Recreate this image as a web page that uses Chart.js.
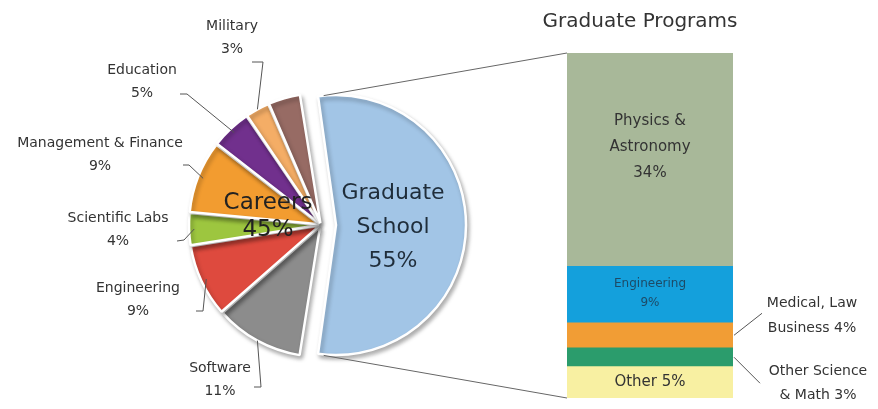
<!DOCTYPE html>
<html>
<head>
<meta charset="utf-8">
<title>Careers and Graduate Programs</title>
<script src="https://cdn.jsdelivr.net/npm/chart.js@4.4.0/dist/chart.umd.min.js"></script>
<style>
html, body { margin: 0; padding: 0; background: #fff; }
#wrap { position: relative; width: 878px; height: 409px; overflow: hidden; }
#pieChart { position: absolute; left: 0; top: 0; }
#barChart { position: absolute; left: 540px; top: 0; }
</style>
</head>
<body>
<div id="wrap">
  <canvas id="pieChart" width="878" height="409"></canvas>
  <canvas id="barChart" width="338" height="409"></canvas>
</div>
<script>
// pie: where people go after the degree
var pieLabels = ['Graduate School', 'Software', 'Engineering', 'Scientific Labs', 'Management & Finance', 'Education', 'Military', 'Other'];
var pieValues = [55, 11, 9, 4, 9, 5, 3, 4];
var pieColors = ['#a2c5e6', '#8c8c8c', '#de4a3e', '#9dc63f', '#f29c30', '#71308d', '#f4ad66', '#976b64'];

// bar: breakdown of the graduate school slice (bottom to top)
var gradLabels = ['Other', 'Other Science & Math', 'Medical, Law Business', 'Engineering', 'Physics & Astronomy'];
var gradValues = [5, 3, 4, 9, 34];
var gradColors = ['#f8f0a2', '#2b9c6c', '#f19d35', '#14a0dc', '#a8b899'];

var FONT = "'Comic Sans MS', 'DejaVu Sans', sans-serif";
var TEXT = '#333333';

// where the outside pie labels sit, and the elbow of their leader line
var calloutLayout = [
  null,
  { tx: 220, ty: 380, path: [[254, 387], [261, 387]], rf: 1.0 },
  { tx: 138, ty: 300, path: [[196, 311], [203, 311]], rf: 0.96 },
  { tx: 118, ty: 230, path: [[177, 241], [184, 240]], rf: 0.96 },
  { tx: 100, ty: 155, path: [[183, 165], [189, 165]], rf: 0.96 },
  { tx: 142, ty: 82, path: [[180, 94], [187, 94]], rf: 0.96 },
  { tx: 232, ty: 38, path: [[252, 62], [263, 62]], rf: 1.0 },
  null
];

function drawLines(ctx, lines, x, y, lh) {
  var y0 = y - (lines.length - 1) * lh / 2;
  for (var i = 0; i < lines.length; i++) {
    ctx.fillText(lines[i], x, y0 + i * lh);
  }
}

// ArcElement.draw moves a slice by offset/4 and grows it by offset/4*fix
function arcFix(el) {
  var circ = el.endAngle - el.startAngle;
  return 1 - Math.sin(Math.min(Math.PI, circ));
}
function arcShift(el) {
  var d = (el.options.offset || 0) / 4;
  var mid = (el.startAngle + el.endAngle) / 2;
  return { dx: Math.cos(mid) * d, dy: Math.sin(mid) * d };
}
function arcPoint(el, angle, rf) {
  var s = arcShift(el);
  var r = (el.outerRadius + (el.options.offset || 0) / 4 * arcFix(el)) * rf;
  return { x: el.x + s.dx + Math.cos(angle) * r, y: el.y + s.dy + Math.sin(angle) * r };
}

var barLeft = 540, barTop = 0;

var barDecor = {
  id: 'barDecor',
  beforeDatasetsDraw: function (chart) {
    var ctx = chart.ctx;
    ctx.save();
    ctx.shadowColor = 'rgba(0,0,0,0.45)';
    ctx.shadowOffsetX = 3;
    ctx.shadowOffsetY = 3;
    ctx.shadowBlur = 2;
  },
  afterDatasetsDraw: function (chart) {
    var ctx = chart.ctx;
    ctx.restore();
    ctx.save();
    ctx.textAlign = 'center';
    ctx.textBaseline = 'middle';
    var seg = function (i) {
      var el = chart.getDatasetMeta(i).data[0];
      return { x: el.x, left: el.x - el.width / 2, right: el.x + el.width / 2, cy: (el.y + el.base) / 2, top: el.y };
    };
    var top = seg(4);
    ctx.fillStyle = TEXT;
    ctx.font = '20px ' + FONT;
    ctx.fillText('Graduate Programs', top.x - 10, 22);

    ctx.font = '15px ' + FONT;
    drawLines(ctx, ['Physics &', 'Astronomy', gradValues[4] + '%'], top.x, top.cy - 13, 26);

    var eng = seg(3);
    ctx.fillStyle = '#1d4a66';
    ctx.font = '12px ' + FONT;
    drawLines(ctx, [gradLabels[3], gradValues[3] + '%'], eng.x, eng.cy - 1, 19);

    var oth = seg(0);
    ctx.fillStyle = TEXT;
    ctx.font = '15px ' + FONT;
    ctx.fillText(gradLabels[0] + ' ' + gradValues[0] + '%', oth.x, oth.cy);

    // outside labels with leader lines
    ctx.strokeStyle = '#555';
    ctx.lineWidth = 1;
    var med = seg(2);
    ctx.beginPath();
    ctx.moveTo(med.right + 1, med.cy);
    ctx.lineTo(med.right + 29, med.cy - 22);
    ctx.stroke();
    ctx.font = '14px ' + FONT;
    drawLines(ctx, ['Medical, Law', 'Business ' + gradValues[2] + '%'], med.right + 79, med.cy - 19, 25);

    var sci = seg(1);
    ctx.beginPath();
    ctx.moveTo(sci.right + 1, sci.cy);
    ctx.lineTo(sci.right + 27, sci.cy + 26);
    ctx.stroke();
    drawLines(ctx, ['Other Science', '& Math ' + gradValues[1] + '%'], sci.right + 85, sci.cy + 26, 24);
    ctx.restore();
  }
};

var barChart = new Chart(document.getElementById('barChart'), {
  type: 'bar',
  data: {
    labels: ['Graduate Programs'],
    datasets: gradLabels.map(function (name, i) {
      return {
        label: name,
        data: [gradValues[i]],
        backgroundColor: gradColors[i],
        borderWidth: 0,
        barPercentage: 1,
        categoryPercentage: 1
      };
    })
  },
  options: {
    responsive: false,
    animation: false,
    layout: { padding: { left: 27, right: 145, top: 53, bottom: 11 } },
    scales: {
      x: { stacked: true, display: false },
      y: { stacked: true, display: false, min: 0, max: 55 }
    },
    plugins: { legend: { display: false }, tooltip: { enabled: false } }
  },
  plugins: [barDecor]
});

var pieDecor = {
  id: 'pieDecor',
  // keep exploded slices the same size as the rest: undo the growth the offset adds
  afterDatasetUpdate: function (chart, args) {
    args.meta.data.forEach(function (el) {
      el.outerRadius = el.outerRadius - (el.options.offset || 0) / 4 * arcFix(el);
    });
  },
  beforeDatasetsDraw: function (chart) {
    var ctx = chart.ctx;
    ctx.save();
    ctx.shadowColor = 'rgba(0,0,0,0.3)';
    ctx.shadowOffsetX = 2;
    ctx.shadowOffsetY = 3;
    ctx.shadowBlur = 4;
  },
  afterDatasetsDraw: function (chart) {
    var ctx = chart.ctx;
    ctx.restore();
    ctx.save();
    var arcs = chart.getDatasetMeta(0).data;

    // lines from the graduate school slice to the bar corners
    var grad = arcs[0];
    var pTop = arcPoint(grad, grad.startAngle, 1.0);
    var pBot = arcPoint(grad, grad.endAngle, 1.0);
    var physics = barChart.getDatasetMeta(4).data[0];
    var other = barChart.getDatasetMeta(0).data[0];
    ctx.strokeStyle = '#666';
    ctx.lineWidth = 1;
    ctx.beginPath();
    ctx.moveTo(pTop.x + 8, pTop.y - 1);
    ctx.lineTo(barLeft + physics.x - physics.width / 2, barTop + physics.y);
    ctx.moveTo(pBot.x + 8, pBot.y + 2);
    ctx.lineTo(barLeft + other.x - other.width / 2, barTop + other.base);
    ctx.stroke();

    // outside labels for career slices
    ctx.textAlign = 'center';
    ctx.textBaseline = 'middle';
    ctx.font = '14px ' + FONT;
    ctx.strokeStyle = '#555';
    for (var i = 0; i < arcs.length; i++) {
      var lay = calloutLayout[i];
      if (!lay) continue;
      var el = arcs[i];
      var mid = (el.startAngle + el.endAngle) / 2;
      var p = arcPoint(el, mid, lay.rf);
      ctx.beginPath();
      ctx.moveTo(lay.path[0][0], lay.path[0][1]);
      for (var k = 1; k < lay.path.length; k++) ctx.lineTo(lay.path[k][0], lay.path[k][1]);
      ctx.lineTo(p.x, p.y);
      ctx.stroke();
      ctx.fillStyle = TEXT;
      drawLines(ctx, [pieLabels[i], pieValues[i] + '%'], lay.tx, lay.ty, 23);
    }

    // inner labels
    var careers = 0;
    for (var j = 1; j < pieValues.length; j++) careers += pieValues[j];
    var c = arcs[1];
    ctx.fillStyle = '#222';
    ctx.font = '23px ' + FONT;
    drawLines(ctx, ['Careers', careers + '%'], c.x - 53, c.y - 8, 27);

    var gs = arcShift(grad);
    ctx.fillStyle = '#1f2d3a';
    ctx.font = '22px ' + FONT;
    drawLines(ctx, ['Graduate', 'School', pieValues[0] + '%'], grad.x + gs.dx + 57, grad.y + 2, 34);
    ctx.restore();
  }
};

var pieChart = new Chart(document.getElementById('pieChart'), {
  type: 'pie',
  data: {
    labels: pieLabels,
    datasets: [{
      data: pieValues,
      backgroundColor: pieColors,
      borderColor: '#ffffff',
      borderWidth: 2.5,
      offset: [60, 8, 8, 8, 8, 8, 8, 8]
    }]
  },
  options: {
    responsive: false,
    animation: false,
    rotation: -9,
    radius: 130,
    layout: { padding: { left: 0, right: 236, top: 41, bottom: 0 } },
    plugins: { legend: { display: false }, tooltip: { enabled: false } }
  },
  plugins: [pieDecor]
});
</script>
</body>
</html>
